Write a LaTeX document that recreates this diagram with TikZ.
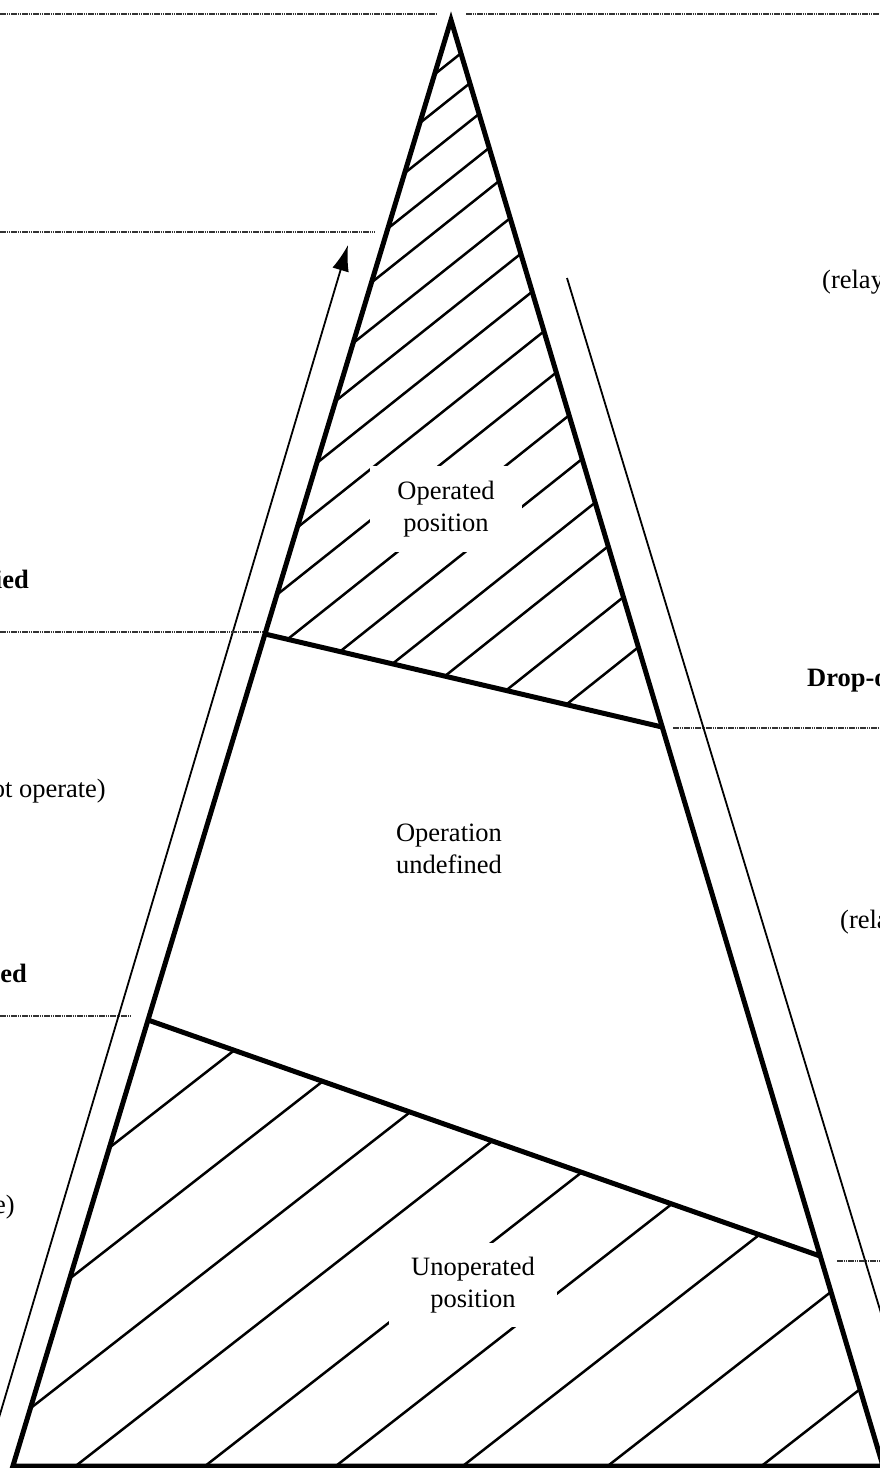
\documentclass[tikz,border=0pt]{standalone}
\usepackage{fontspec}
\setmainfont{Liberation Serif}
\usetikzlibrary{arrows.meta}

\begin{document}
\begin{tikzpicture}[
  x=1pt, y=-1pt,
  edge/.style={line width=5pt, line join=miter},
  hatch/.style={line width=2.5pt},
  guide/.style={line width=1.8pt},
  level/.style={black!80, line width=2pt, dash pattern=on 1.5pt off 0.7pt},
  label/.style={font=\fontsize{26.5}{32}\selectfont, align=center, inner sep=0pt},
  side/.style={font=\fontsize{26.5}{32}\selectfont, inner sep=0pt}
]
  \useasboundingbox (0,0) rectangle (880,1468);
  \clip (0,0) rectangle (880,1468);

  % corners of the triangle and the two borders
  \coordinate (apex) at (451,20);
  \coordinate (bl) at (12.9,1466);
  \coordinate (br) at (883,1466);
  \coordinate (l1) at (265,634);
  \coordinate (r1) at (662,727);
  \coordinate (l2) at (148,1020);
  \coordinate (r2) at (820,1256);

  % hatching
  \begin{scope}
    \clip (apex) -- (l1) -- (r1) -- cycle;
    \foreach \c in {420,457,495,537,578,624,668,715,764,815,868,922,976,1030,1093,1155}
      \draw[hatch] (0,\c) -- (880,\c-700);
  \end{scope}
  \begin{scope}
    \clip (l2) -- (r2) -- (br) -- (bl) -- cycle;
    \foreach \c in {1233,1333,1432,1525,1626,1728,1827,1940,2060}
      \draw[hatch] (0,\c) -- (880,\c-686.4);
  \end{scope}

  % labels inside
  \node[label, fill=white, minimum width=152pt, minimum height=86pt] (operated) at (446,509) {Operated\\position};
  \node[label] (undefined) at (449,849) {Operation\\undefined};
  \node[label, fill=white, minimum width=168pt, minimum height=84pt] (unoperated) at (473,1285) {Unoperated\\position};

  % triangle
  \draw[edge] (apex) -- (bl) -- (br) -- cycle;
  \draw[edge] (l1) -- (r1);
  \draw[edge] (l2) -- (r2);

  % arrows beside the triangle
  \coordinate (upfoot) at (-16,1468);
  \coordinate (uptip) at (348,245);
  \draw[guide, -{Latex[length=26pt, width=17pt]}] (upfoot) -- (uptip);
  \coordinate (downtop) at (567,278);
  \coordinate (downfoot) at (928,1468);
  \draw[guide] (downtop) -- (downfoot);

  % levels
  \draw[level] (0,14) -- (437,14);
  \draw[level] (466,13.5) -- (880,13.5);
  \draw[level] (0,232) -- (375,232);
  \draw[level] (0,632) -- (262,632);
  \draw[level] (0,1016) -- (132,1016);
  \draw[level] (673,728) -- (880,728);
  \draw[level] (837,1261) -- (880,1261);

  % texts at the edges
  \node[side, anchor=base east] (leftone) at (29,588) {\textbf{ied}};
  \node[side, anchor=base east] (lefttwo) at (106,797) {ot operate)};
  \node[side, anchor=base east] (leftthree) at (27,982) {\textbf{ied}};
  \node[side, anchor=base east] (leftfour) at (15,1213) {e)};
  \node[side, anchor=base west] (rightone) at (822,288) {(relay};
  \node[side, anchor=base west] (righttwo) at (807,686) {\textbf{Drop-o}};
  \node[side, anchor=base west] (rightthree) at (840,928) {(rela};
\end{tikzpicture}
\end{document}
